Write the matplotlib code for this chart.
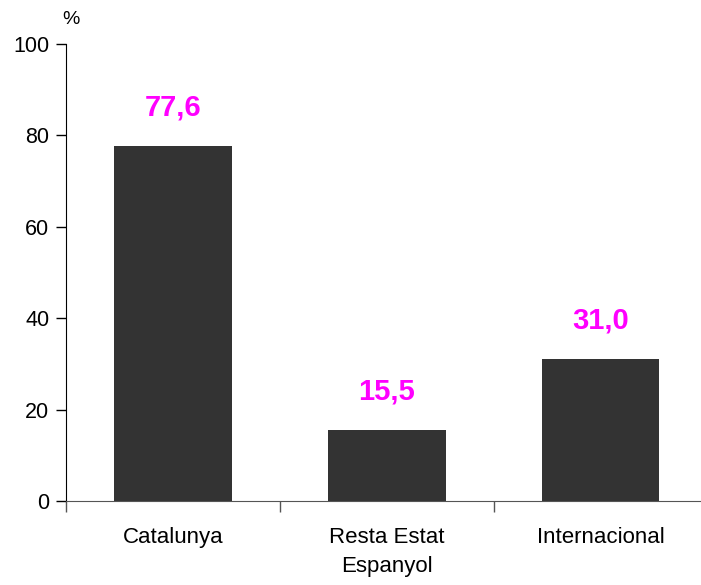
import numpy as np
import matplotlib.pyplot as plt

plt.rcParams['font.family'] = ['Liberation Sans', 'DejaVu Sans']

# data
categories = ["Catalunya", "Resta Estat\nEspanyol", "Internacional"]
values = [77.6, 15.5, 31.0]
value_labels = ["77,6", "15,5", "31,0"]
yticks = [0, 20, 40, 60, 80, 100]

fig = plt.figure(figsize=(7.01, 5.85), dpi=100)
ax = fig.add_axes([66/701, 1 - 501/585, 1 - 66/701, (501 - 44)/585])

x = np.arange(len(categories))
ax.bar(x, values, width=0.55, color="#333333", zorder=2)

for xi, v, lab in zip(x, values, value_labels):
    ax.annotate(lab, (xi, v), xytext=(0, 22), textcoords="offset points",
                ha="center", va="baseline", color="#ff00ff",
                fontsize=21, fontweight="bold")

ax.set_xlim(-0.5, 2.47)
ax.set_ylim(0, 100)
ax.set_yticks(yticks)
ax.tick_params(axis="y", length=7, width=1, labelsize=15.5, pad=5)

ax.set_xticks(x)
ax.set_xticklabels(categories, fontsize=16, linespacing=1.45)
ax.tick_params(axis="x", which="major", length=0, pad=19)
ax.set_xticks([-0.5, 0.5, 1.5], minor=True)
ax.tick_params(axis="x", which="minor", length=8, width=1, color="#555555")

ax.spines["top"].set_visible(False)
ax.spines["right"].set_visible(False)
ax.spines["bottom"].set_color("#555555")
ax.spines["left"].set_color("black")

fig.text(71/701, 1 - 20/585, "%", fontsize=14, ha="center", va="center")

fig.savefig("out.png", dpi=100)
